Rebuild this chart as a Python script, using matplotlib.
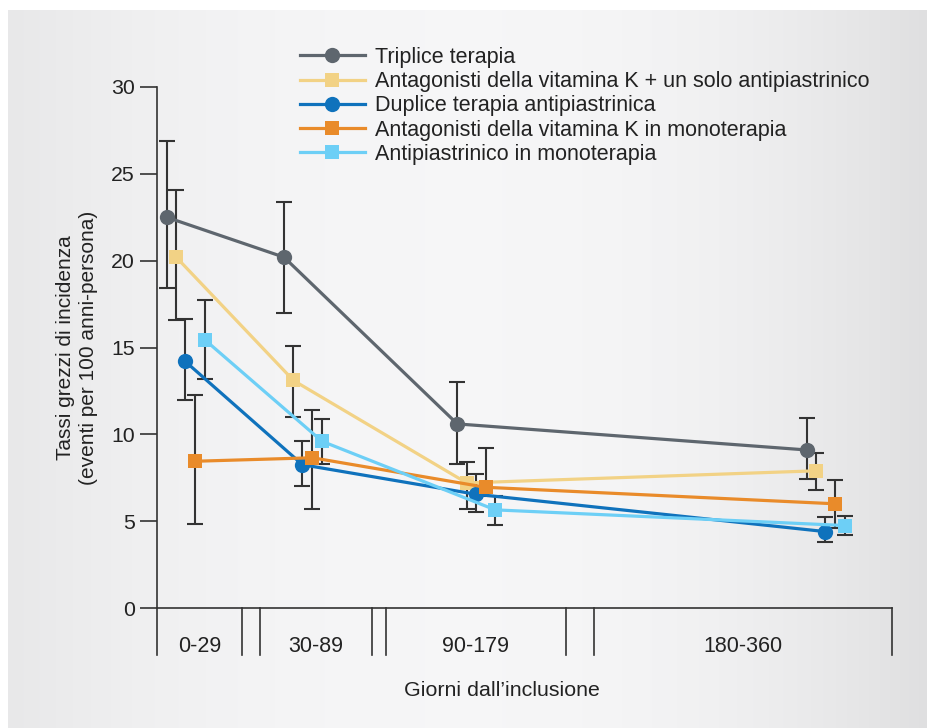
import numpy as np
import matplotlib.pyplot as plt

plt.rcParams['font.family'] = ['Liberation Sans', 'DejaVu Sans']

# gruppi temporali (giorni dall'inclusione)
groups = ['0-29', '30-89', '90-179', '180-360']

labels = ['Triplice terapia',
          'Antagonisti della vitamina K + un solo antipiastrinico',
          'Duplice terapia antipiastrinica',
          'Antagonisti della vitamina K in monoterapia',
          'Antipiastrinico in monoterapia']

triplice = [22.5, 20.2, 10.6, 9.1]
triplice_lo = [18.4, 17.0, 8.3, 7.4]
triplice_hi = [26.9, 23.4, 13.0, 10.95]

avk_anti = [20.2, 13.1, 7.2, 7.9]
avk_anti_lo = [16.6, 11.0, 5.7, 6.8]
avk_anti_hi = [24.05, 15.1, 8.4, 8.9]

duplice = [14.2, 8.25, 6.55, 4.4]
duplice_lo = [12.0, 7.0, 5.55, 3.8]
duplice_hi = [16.65, 9.6, 7.7, 5.25]

avk_mono = [8.45, 8.65, 6.95, 6.0]
avk_mono_lo = [4.85, 5.7, 6.45, 4.6]
avk_mono_hi = [12.25, 11.4, 9.2, 7.35]

anti_mono = [15.45, 9.6, 5.65, 4.75]
anti_mono_lo = [13.2, 8.3, 4.8, 4.2]
anti_mono_hi = [17.75, 10.9, 6.45, 5.3]

series = [(triplice, triplice_lo, triplice_hi),
          (avk_anti, avk_anti_lo, avk_anti_hi),
          (duplice, duplice_lo, duplice_hi),
          (avk_mono, avk_mono_lo, avk_mono_hi),
          (anti_mono, anti_mono_lo, anti_mono_hi)]
colors = ['#5e666e', '#f2d285', '#0f72bc', '#e98b2a', '#6dcff6']
markers = ['o', 's', 'o', 's', 's']
msizes = [11, 9.5, 11, 9.5, 10.5]

# layout of the broken x axis (axis units = px from left spine)
group_x = np.array([9.7, 127, 300.3, 649.7])
offsets = [0, 9.5, 18.5, 28.5, 38]
segments = [(0, 85), (103, 215), (229, 409), (437, 735)]

fig = plt.figure(figsize=(9.28, 7.28), dpi=100, facecolor='white')

# background gradient
bg = fig.add_axes([8 / 928, 0, 1 - 8 / 928, 1 - 10 / 728], zorder=-10)
xs = np.linspace(0, 1, 400)
shade = np.where(xs > 0.5,
                 0.965 - 0.09 * (np.clip(xs - 0.5, 0, None) * 2) ** 2.2,
                 0.965 - 0.055 * (np.clip(0.5 - xs, 0, None) * 2) ** 2.2)
img = np.stack([shade, shade, np.clip(shade + 0.004, 0, 1)], axis=-1)
bg.imshow(np.repeat(img[None, :, :], 2, axis=0), aspect='auto', extent=[0, 1, 0, 1])
bg.axis('off')

ax = fig.add_axes([157 / 928, 1 - 608 / 728, 735 / 928, 521 / 728])
ax.set_facecolor('none')
ax.set_xlim(0, 735)
ax.set_ylim(0, 30)

for i, (vals, lo, hi) in enumerate(series):
    x = group_x + offsets[i]
    vals = np.array(vals)
    yerr = [vals - np.array(lo), np.array(hi) - vals]
    ax.errorbar(x, vals, yerr=yerr, fmt='none', ecolor='#333333',
                elinewidth=1.5, capsize=5.6, capthick=1.5, zorder=2 + i * 0.1)
    ax.plot(x, vals, color=colors[i], lw=2.3, marker=markers[i], ms=msizes[i],
            mec=colors[i], mew=0, label=labels[i], zorder=3 + i * 0.1)

ax.spines['top'].set_visible(False)
ax.spines['right'].set_visible(False)
ax.spines['left'].set_color('#333333')
ax.spines['bottom'].set_color('#333333')
ax.spines['left'].set_linewidth(1.2)
ax.spines['bottom'].set_linewidth(1.2)
ax.set_yticks(np.arange(0, 31, 5))
ax.tick_params(axis='y', length=12, width=1.2, color='#333333', pad=4,
               labelsize=15.3, labelcolor='#222222')
ax.set_xticks([])

# segment dividers and group labels below the axis
trans = ax.get_xaxis_transform()
for (a, b), g in zip(segments, groups):
    for xv in (a, b):
        ax.plot([xv, xv], [0, -47 / 521], transform=trans, color='#333333',
                lw=1.2, clip_on=False)
    ax.text((a + b) / 2, -39 / 521, g, transform=trans, ha='center',
            va='center', fontsize=15.5, color='#222222')

fig.text(502 / 928, 1 - 690 / 728, 'Giorni dall\u2019inclusione', ha='center',
         va='center', fontsize=15.4, color='#222222')
fig.text(77 / 928, 1 - 348 / 728,
         'Tassi grezzi di incidenza\n(eventi per 100 anni-persona)',
         rotation=90, ha='center', va='center', fontsize=15,
         multialignment='center', linespacing=1.25, color='#222222')

ax.legend(loc='upper left', bbox_to_anchor=(300 / 928, 1 - 47 / 728),
          bbox_transform=fig.transFigure, frameon=False, fontsize=15.5,
          handlelength=3.0, handletextpad=0.5, labelspacing=0.15,
          borderpad=0, borderaxespad=0, labelcolor='#222222')

fig.savefig('out.png', dpi=100, facecolor='white')
